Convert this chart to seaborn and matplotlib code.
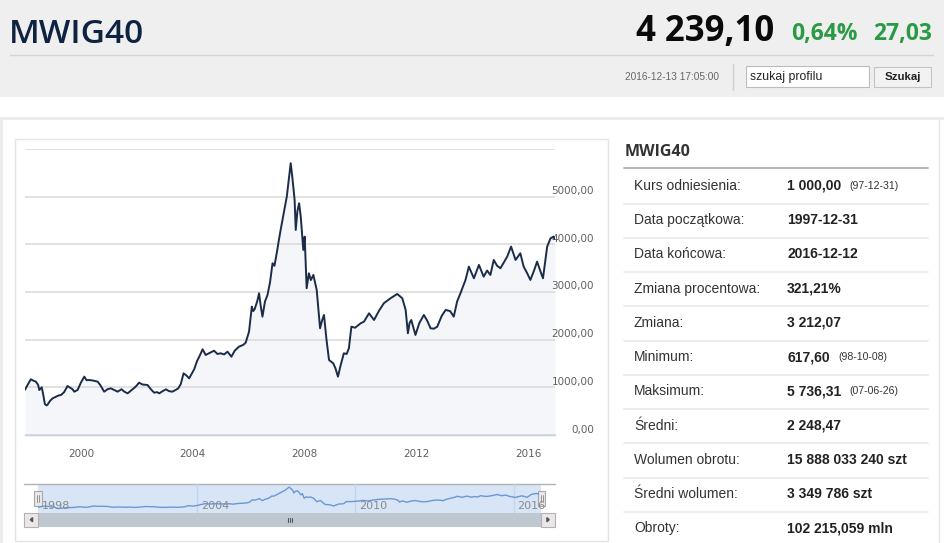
import matplotlib
matplotlib.use("Agg")
import matplotlib.pyplot as plt
import seaborn as sns
import pandas as pd
from matplotlib.patches import Rectangle, Polygon
from matplotlib.transforms import ScaledTranslation, blended_transform_factory

# -----------------------------
# Data
# -----------------------------
years = [1998.00, 1998.12, 1998.21, 1998.30, 1998.39, 1998.47, 1998.51, 1998.60, 1998.66, 1998.71,
         1998.77, 1998.81, 1998.90, 1998.99, 1999.10, 1999.20, 1999.29, 1999.40, 1999.52, 1999.62,
         1999.70, 1999.76, 1999.88, 2000.00, 2000.12, 2000.20, 2000.30, 2000.45, 2000.60, 2000.70,
         2000.83, 2000.95, 2001.07, 2001.20, 2001.31, 2001.45, 2001.55, 2001.67, 2001.85, 2001.95,
         2002.08, 2002.20, 2002.38, 2002.50, 2002.62, 2002.72, 2002.80, 2002.92, 2003.04, 2003.15,
         2003.27, 2003.40, 2003.48, 2003.57, 2003.67, 2003.77, 2003.87, 2004.05, 2004.15, 2004.23,
         2004.35, 2004.46, 2004.60, 2004.76, 2004.88, 2005.00, 2005.12, 2005.24, 2005.38, 2005.50,
         2005.65, 2005.80, 2005.89, 2006.01, 2006.11, 2006.16, 2006.21, 2006.30, 2006.37, 2006.43,
         2006.49, 2006.58, 2006.67, 2006.76, 2006.85, 2006.92, 2007.02, 2007.08, 2007.14, 2007.25,
         2007.36, 2007.44, 2007.50, 2007.56, 2007.64, 2007.68, 2007.74, 2007.80, 2007.86, 2007.95,
         2008.00, 2008.07, 2008.15, 2008.22, 2008.31, 2008.43, 2008.55, 2008.62, 2008.69, 2008.78,
         2008.87, 2009.02, 2009.10, 2009.19, 2009.28, 2009.40, 2009.50, 2009.58, 2009.67, 2009.80,
         2010.00, 2010.12, 2010.30, 2010.48, 2010.65, 2010.83, 2011.07, 2011.31, 2011.49, 2011.61,
         2011.69, 2011.75, 2011.81, 2011.96, 2012.10, 2012.26, 2012.38, 2012.50, 2012.62, 2012.74,
         2012.90, 2013.04, 2013.20, 2013.33, 2013.45, 2013.57, 2013.75, 2013.87, 2014.05, 2014.23,
         2014.40, 2014.52, 2014.64, 2014.76, 2014.88, 2015.00, 2015.10, 2015.24, 2015.38, 2015.54,
         2015.71, 2015.83, 2015.95, 2016.07, 2016.20, 2016.31, 2016.42, 2016.52, 2016.60, 2016.67,
         2016.79, 2016.90, 2016.95]
values = [950, 1080, 1169, 1140, 1119, 1050, 944, 1000, 820, 650,
          620, 640, 720, 770, 800, 830, 840, 900, 1028, 990,
          960, 909, 944, 1100, 1224, 1150, 1154, 1140, 1119, 1040,
          909, 960, 979, 940, 909, 960, 910, 874, 960, 1010,
          1098, 1060, 1049, 960, 888, 900, 874, 920, 958, 920,
          909, 950, 979, 1070, 1294, 1250, 1189, 1380, 1550, 1643,
          1798, 1679, 1720, 1769, 1700, 1714, 1690, 1748, 1643, 1770,
          1853, 1890, 1937, 2168, 2693, 2600, 2638, 2800, 2974, 2700,
          2483, 2800, 2938, 3200, 3603, 3550, 3882, 4100, 4302, 4650,
          5001, 5400, 5702, 5400, 4932, 4302, 4700, 4862, 4581, 3882,
          4162, 3079, 3393, 3250, 3358, 3043, 2239, 2400, 2518, 2000,
          1574, 1504, 1400, 1224, 1450, 1714, 1700, 1818, 2273, 2250,
          2343, 2378, 2553, 2413, 2600, 2764, 2869, 2959, 2869, 2623,
          2134, 2350, 2413, 2099, 2350, 2518, 2400, 2239, 2230, 2273,
          2500, 2623, 2600, 2483, 2800, 2974, 3253, 3532, 3288, 3568,
          3322, 3450, 3358, 3672, 3550, 3498, 3600, 3742, 3952, 3672,
          3813, 3532, 3400, 3253, 3450, 3637, 3450, 3288, 3650, 3952,
          4127, 4162, 4110]

y_ticks = [0, 1000, 2000, 3000, 4000, 5000, 6000]
x_ticks = [2000, 2004, 2008, 2012, 2016]
nav_ticks = [1998, 2004, 2010, 2016]

stat_labels = ["Kurs odniesienia:", "Data początkowa:", "Data końcowa:", "Zmiana procentowa:",
               "Zmiana:", "Minimum:", "Maksimum:", "Średni:", "Wolumen obrotu:",
               "Średni wolumen:", "Obroty:"]
stat_values = ["1 000,00", "1997-12-31", "2016-12-12", "321,21%", "3 212,07", "617,60",
               "5 736,31", "2 248,47", "15 888 033 240 szt", "3 349 786 szt", "102 215,059 mln"]
stat_dates = ["(97-12-31)", "", "", "", "", "(98-10-08)", "(07-06-26)", "", "", "", ""]

df = pd.DataFrame({"year": years, "value": values})

# -----------------------------
# Figure / page background
# -----------------------------
sns.set_style("white")
plt.rcParams['font.family'] = ['Liberation Sans', 'DejaVu Sans']

W, H = 945, 543
fig = plt.figure(figsize=(W / 100, H / 100), dpi=100)


def fig_axes(x0, y0, x1, y1):
    # axes placed by page pixel box (top-left origin)
    return fig.add_axes([x0 / W, 1 - y1 / H, (x1 - x0) / W, (y1 - y0) / H])


bg = fig_axes(0, 0, W, H)
bg.set_xlim(0, W)
bg.set_ylim(H, 0)
bg.axis("off")


def box(x0, y0, x1, y1, fc, ec="none", lw=0.0, z=1):
    bg.add_patch(Rectangle((x0, y0), x1 - x0, y1 - y0, facecolor=fc,
                           edgecolor=ec, linewidth=lw, zorder=z))


# header strip
box(0, 0, W, 96.5, "#efefef")
bg.plot([10, 933], [55, 55], color="#d4d4d4", lw=1, zorder=2)
bg.text(9, 43, "MWIG40", fontsize=24, fontweight=600, color="#0e2341", family="Open Sans",
        va="baseline", ha="left", zorder=3)
bg.text(774, 41.5, "4 239,10", fontsize=25, fontweight="bold", color="#0a0a0a",
        family="Open Sans", va="baseline", ha="right", zorder=3)
bg.text(858, 40, "0,64%", fontsize=16.5, fontweight="bold", color="#2a9a45",
        family="Open Sans", va="baseline", ha="right", zorder=3)
bg.text(932, 40, "27,03", fontsize=16.5, fontweight="bold", color="#2a9a45",
        family="Open Sans", va="baseline", ha="right", zorder=3)
bg.text(625, 77, "2016-12-13 17:05:00", fontsize=7.3, color="#666666",
        va="center", ha="left", zorder=3)
bg.plot([733.3, 733.3], [64, 90], color="#d0d0d0", lw=1, zorder=2)
box(746, 66, 869, 87, "white", ec="#bdbdbd", lw=0.8, z=2)
bg.text(750, 77, "szukaj profilu", fontsize=8.8, color="#222222",
        va="center", ha="left", zorder=3)
box(874, 67, 931, 87, "#f2f2f2", ec="#c4c4c4", lw=0.8, z=2)
bg.text(902.5, 77.5, "Szukaj", fontsize=8.2, fontweight="bold", color="#222222",
        va="center", ha="center", zorder=3)

# page frame
box(0, 116.7, W, 120, "#ececec")
box(0, 116.7, 3, H, "#ececec")
bg.plot([939, 939], [120, H], color="#e4e4e4", lw=1, zorder=2)

# chart container
box(15, 139, 608, 541, "white", ec="#e4e4e4", lw=1.0, z=1)

# -----------------------------
# Main chart
# -----------------------------
ax = fig_axes(25, 149, 555, 435)
ax.patch.set_alpha(0)
ax.fill_between(df["year"], df["value"], color="#f4f6f9", lw=0, zorder=0)
sns.lineplot(data=df, x="year", y="value", ax=ax, color="#1b2c49", lw=1.4, zorder=3)
ax.set_xlim(1998.0, 2016.95)
ax.set_ylim(0, 6000)
ax.set_xlabel("")
ax.set_ylabel("")
ax.set_axisbelow(True)
ax.yaxis.grid(True, color="#d9d9d9", lw=1.1)
ax.xaxis.grid(False)
for side in ["top", "left", "right"]:
    ax.spines[side].set_visible(False)
ax.spines["bottom"].set_color("#c0d0e0")
ax.spines["bottom"].set_linewidth(1.0)

ax.set_xticks(x_ticks)
ax.set_xticklabels([str(t) for t in x_ticks])
ax.tick_params(axis="x", direction="out", length=5, width=1, color="#c0d0e0",
               labelsize=7.5, labelcolor="#606060", pad=5)
for lab in ax.get_xticklabels():
    lab.set_family("DejaVu Sans")

ax.yaxis.tick_right()
ax.set_yticks(y_ticks)
ax.set_yticklabels(["" if t == 6000 else f"{t},00" for t in y_ticks])
ax.tick_params(axis="y", length=0, pad=0, labelsize=7.5, labelcolor="#606060")
shift = ScaledTranslation(0.39, 0.065, fig.dpi_scale_trans)
for lab in ax.get_yticklabels():
    lab.set_family("DejaVu Sans")
    lab.set_ha("right")
    lab.set_transform(lab.get_transform() + shift)

# -----------------------------
# Navigator + scrollbar
# -----------------------------
box(38.3, 484.3, 540.7, 512.7, "#d7e5f6", z=1)
bg.plot([24.3, 555], [484.3, 484.3], color="#b2b2b2", lw=1, zorder=2)

nav = fig_axes(38.3, 484.3, 540.7, 512.7)
nav.patch.set_alpha(0)
nav.set_xlim(1998.0, 1998.0 + 502.4 / 26.4)
nav.set_ylim(-380, 6380)
for t in nav_ticks[1:]:
    nav.axvline(t, color="#c4d5ea", lw=0.9, zorder=1)
sns.lineplot(data=df, x="year", y="value", ax=nav, color="#6b97d4", lw=1.0, zorder=3)
nav.axis("off")
lab_tr = blended_transform_factory(nav.transData, nav.transAxes) + \
    ScaledTranslation(0.04, 0, fig.dpi_scale_trans)
for t in nav_ticks:
    nav.text(t, 0.25, str(t), transform=lab_tr, fontsize=8, color="#8a8a8a",
             family="DejaVu Sans", va="center", ha="left", zorder=4)

# scrollbar
box(24.3, 512.7, 555, 526.7, "#bfc7d1", z=1)
box(24.3, 512.7, 38.3, 526.7, "#ebe7e8", ec="#b2b2b2", lw=0.8, z=2)
box(541, 512.7, 555, 526.7, "#ebe7e8", ec="#b2b2b2", lw=0.8, z=2)
bg.add_patch(Polygon([(30.3, 519.7), (32.6, 517.6), (32.6, 521.8)], color="#555555", zorder=3))
bg.add_patch(Polygon([(549.2, 519.7), (546.9, 517.6), (546.9, 521.8)], color="#555555", zorder=3))
for gx in [287.5, 289.5, 291.5]:
    bg.plot([gx, gx], [517.5, 522], color="#555555", lw=0.8, zorder=3)

# navigator handles
for hx in [34.3, 538.0]:
    box(hx, 491, hx + 7.4, 505.7, "#ebe7e8", ec="#a8a8a8", lw=0.8, z=5)
    for lx in [hx + 2.7, hx + 4.7]:
        bg.plot([lx, lx], [494.5, 502], color="#888888", lw=0.6, zorder=6)

# -----------------------------
# Statistics table
# -----------------------------
bg.text(625, 152.5, "MWIG40", fontsize=11.5, fontweight="bold", color="#333333",
        family="Open Sans", va="center", ha="left", zorder=3)
bg.plot([624, 928], [168.3, 168.3], color="#a8a8a8", lw=1.2, zorder=2)

row_step = (528.3 - 186) / 10
for i, (lab, val, dt) in enumerate(zip(stat_labels, stat_values, stat_dates)):
    ry = 186 + i * row_step
    bg.text(634, ry, lab, fontsize=10, color="#333333", va="center", ha="left", zorder=3)
    vt = bg.text(787, ry, val, fontsize=10, fontweight="bold", color="#222222",
                 va="center", ha="left", zorder=3)
    if dt:
        bg.annotate(dt, xy=(1, 0.5), xycoords=vt, xytext=(6, 0), textcoords="offset points",
                    fontsize=7.6, color="#333333", va="center", ha="left", zorder=3)
    if i < len(stat_labels) - 1:
        bg.plot([624, 928], [ry + 17.8, ry + 17.8], color="#ececec", lw=1.4, zorder=2)

fig.savefig("out.png", dpi=100)
